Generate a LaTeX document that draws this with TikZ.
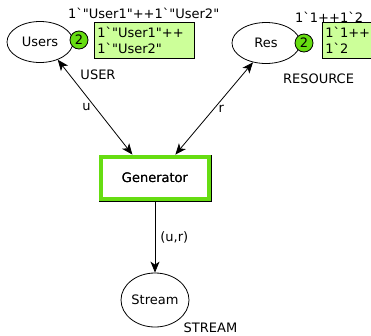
\documentclass[tikz,border=0pt]{standalone}
\usepackage{fontspec}
\newfontfamily\cpnfont{DejaVu Sans}
\usetikzlibrary{arrows.meta,shapes.geometric}
\definecolor{tokengreen}{HTML}{66DD11}
\definecolor{markgreen}{HTML}{CCFF99}

\begin{document}
\begin{tikzpicture}[x=1pt,y=-1pt,
  every node/.style={font=\cpnfont\fontsize{13}{15.5}\selectfont},
  place/.style={ellipse,draw,line width=0.8pt,inner sep=0pt},
  trans/.style={rectangle,draw,fill=white,line width=0.8pt,
    minimum width=112pt,minimum height=46pt},
  token/.style={circle,draw,fill=tokengreen,line width=0.8pt,inner sep=0pt,
    minimum size=18pt},
  marking/.style={rectangle,draw,fill=markgreen,line width=0.6pt,
    anchor=north west,align=left,inner xsep=3pt,inner ysep=2pt,minimum height=36pt},
  lbl/.style={inner sep=0pt},
  tip/.tip={Stealth[length=11pt,width=9pt,inset=3pt]},
  arc/.style={line width=0.8pt,-tip},
  biarc/.style={line width=0.8pt,tip-tip},
]
\path[use as bounding box,clip] (0,0) rectangle (371,335);

% places
\node[place,minimum width=66pt,minimum height=41pt] (users) at (40,42) {Users};
\node[place,minimum width=68pt,minimum height=41pt] (res) at (266,43) {Res};
\node[place,minimum width=68pt,minimum height=54pt] (stream) at (155,300) {Stream};

% transition with its green frame
\node[trans] (gen) at (155,178) {Generator};
\draw[tokengreen,line width=4pt]
  ([shift={(2.6pt,-2.6pt)}]gen.north west) rectangle ([shift={(-2.6pt,2.6pt)}]gen.south east);
\node at (gen) {Generator};

% colour sets
\node[lbl] (usercs) at (98,75) {USER};
\node[lbl] (rescs) at (318.5,79) {RESOURCE};
\node[lbl] (streamcs) at (210.5,328) {STREAM};

% initial markings
\node[lbl,anchor=west] (usersinit) at (68,13) {1`"User1"++1`"User2"};
\node[lbl,anchor=west] (resinit) at (295,17) {1`1++1`2};

% current markings
\node[token] (userstok) at (79,40) {2};
\node[marking,text width=94pt] (usersmk) at (94,22) {1`"User1"++\\1`"User2"};
\node[token] (restok) at (304,43) {2};
\node[marking,text width=60pt] (resmk) at (322,22) {1`1++\\1`2};

% arcs
\draw[biarc] (users.-45) -- (gen.134) node[lbl,pos=0.5,left=4pt] (ulbl) {u};
\draw[biarc] (res.-124) -- (gen.49) node[lbl,pos=0.5,right=4pt] (rlbl) {r};
\draw[arc] (gen) -- (stream) node[lbl,pos=0.5,right=5pt] (urlbl) {(u,r)};
\end{tikzpicture}
\end{document}
